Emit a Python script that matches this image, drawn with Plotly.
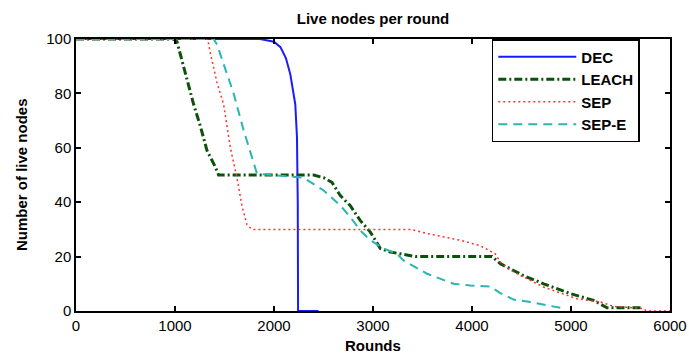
import plotly.graph_objects as go

dec_x = [0, 1860, 2000, 2065, 2120, 2165, 2215, 2232, 2240, 2243, 2450]
dec_y = [100, 100, 99, 97, 93, 87, 76, 64, 40, 0, 0]

leach_x = [0, 985, 1020, 1087, 1188, 1256, 1323, 1407, 1440, 2400, 2502, 2586, 2670,
           2771, 2872, 2973, 3074, 3175, 3427, 4202, 4286, 4521, 4723, 4993, 5228, 5364, 5733]
leach_y = [100, 100, 99, 90, 76, 68, 59, 53, 50, 50, 49, 47.3, 42.4,
           38.7, 33.2, 29, 23, 21.7, 20, 20, 17.4, 13, 10, 6.4, 3.9, 1.2, 1.2]

sep_x = [0, 1330, 1356, 1424, 1491, 1559, 1626, 1677, 1727, 1778, 3380, 3545, 3882,
         4084, 4235, 4286, 4387, 4723, 5060, 5300, 5430, 5733, 5760, 6000]
sep_y = [100, 100, 95, 84, 76, 60, 49, 38.5, 31.7, 30, 30, 28.5, 26,
         24, 21, 18, 15, 8.8, 4.5, 3.3, 1.7, 0.9, 0, 0]

sepe_x = [0, 1390, 1424, 1491, 1592, 1693, 1794, 1828, 2299, 2367, 2502, 2670, 2771,
          2872, 2973, 3107, 3242, 3309, 3545, 3815, 3983, 4185, 4286, 4420, 4589, 4757,
          4892, 4942]
sepe_y = [100, 100, 98, 91, 80, 66.5, 54, 50.5, 49, 47.4, 44.3, 38.8, 34.5,
          29.6, 26, 23, 21, 18.6, 13.7, 10, 9.4, 9, 6.6, 4.2, 3.3, 2.1,
          1.2, 0]

x_ticks = [0, 1000, 2000, 3000, 4000, 5000, 6000]
y_ticks = [0, 20, 40, 60, 80, 100]

FONT = "Liberation Sans, Arial, sans-serif"

fig = go.Figure()
fig.add_trace(go.Scatter(x=dec_x, y=dec_y, mode="lines", name="<b>DEC</b>",
                         line=dict(color="#1a1aff", width=2)))
fig.add_trace(go.Scatter(x=leach_x, y=leach_y, mode="lines", name="<b>LEACH</b>",
                         line=dict(color="#0b520b", width=3, dash="8px,3px,2px,3px")))
fig.add_trace(go.Scatter(x=sep_x, y=sep_y, mode="lines", name="<b>SEP</b>",
                         line=dict(color="#ff3030", width=1.5, dash="2px,3px")))
fig.add_trace(go.Scatter(x=sepe_x, y=sepe_y, mode="lines", name="<b>SEP-E</b>",
                         line=dict(color="#2ab5b5", width=2, dash="9px,6px")))

fig.update_layout(
    width=689, height=354,
    margin=dict(l=76, r=19, t=39, b=43, autoexpand=False),
    paper_bgcolor="white", plot_bgcolor="white",
    font=dict(family=FONT, size=15, color="black"),
    title=dict(text="<b>Live nodes per round</b>", x=373 / 689, xanchor="center",
               y=1 - 19 / 354, yanchor="middle", yref="container",
               font=dict(size=15, color="black")),
    showlegend=True,
    legend=dict(x=0.70, xanchor="left", y=1, yanchor="top",
                bordercolor="black", borderwidth=1.5, bgcolor="white",
                font=dict(size=15, color="black"), itemwidth=78,
                tracegroupgap=0),
    xaxis=dict(range=[0, 6000], tickvals=x_ticks, ticktext=[str(v) for v in x_ticks],
               ticks="inside", ticklen=5, tickwidth=1.5, tickcolor="black",
               showline=True, linecolor="black", linewidth=1.5, mirror="ticks",
               showgrid=False, zeroline=False, automargin=False,
               tickfont=dict(size=15, family=FONT)),
    yaxis=dict(range=[0, 100], tickvals=y_ticks, ticktext=[str(v) for v in y_ticks],
               ticks="inside", ticklen=5, tickwidth=1.5, tickcolor="black",
               showline=True, linecolor="black", linewidth=1.5, mirror="ticks",
               showgrid=False, zeroline=False, automargin=False,
               tickfont=dict(size=15, family=FONT)),
    annotations=[
        dict(text="<b>Rounds</b>", xref="paper", yref="paper", x=0.5, y=-34 / 272,
             xanchor="center", yanchor="middle", showarrow=False, font=dict(size=15)),
        dict(text="<b>Number of live nodes</b>", xref="paper", yref="paper",
             x=-(76 - 21) / 594, y=0.5, xanchor="center", yanchor="middle",
             textangle=-90, showarrow=False, font=dict(size=15)),
    ],
)

fig.write_html("out.html")
